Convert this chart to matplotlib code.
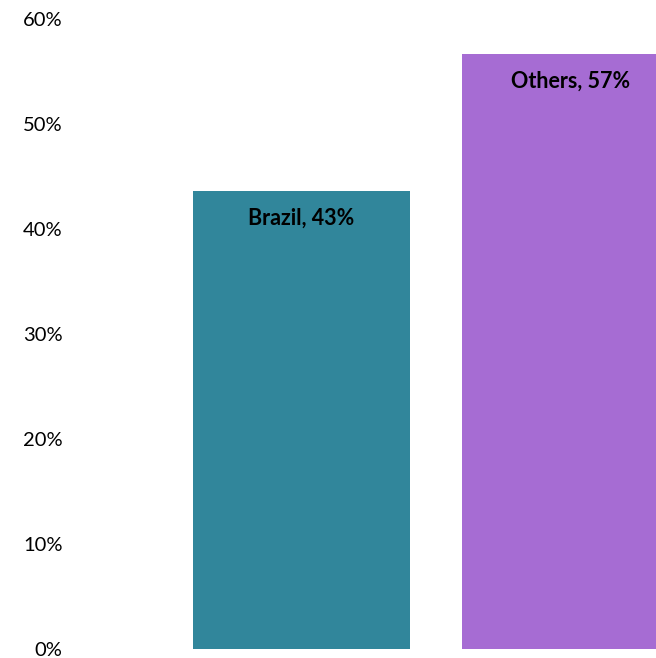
import matplotlib
matplotlib.use("Agg")
import matplotlib.pyplot as plt
from matplotlib.ticker import FuncFormatter

categories = ["Brazil", "Others"]
values = [43.6, 56.7]
labels = ["Brazil, 43%", "Others, 57%"]
colors = ["#31869B", "#A66CD3"]
yticks = [0, 10, 20, 30, 40, 50, 60]

plt.rcParams['font.family'] = ['Lato', 'DejaVu Sans']

W, H = 656, 658
fig = plt.figure(figsize=(W/100, H/100), dpi=100)
left_px, right_px = 100, 656
bottom_px, top_px = 649, 19
ax = fig.add_axes([left_px/W, (H-bottom_px)/H, (right_px-left_px)/W, (bottom_px-top_px)/H])

x = [0, 1]
ax.bar(x, values, width=0.807, color=colors)
unit = 269.0
ax.set_xlim((left_px-301.5)/unit, (right_px-301.5)/unit)
ax.set_ylim(0, 60)
ax.set_yticks(yticks)
ax.yaxis.set_major_formatter(FuncFormatter(lambda v, p: f"{int(v)}%"))
ax.tick_params(axis='y', length=0, pad=27, labelsize=14.5, labelcolor='#000000')
ax.set_xticks([])
for s in ax.spines.values():
    s.set_visible(False)

for xi, v, lab in zip(x, values, labels):
    ax.text(xi, v - 2.6, lab, ha='center', va='center', fontsize=15.5, fontweight='bold', color='black')

fig.savefig("out.png", dpi=100)
